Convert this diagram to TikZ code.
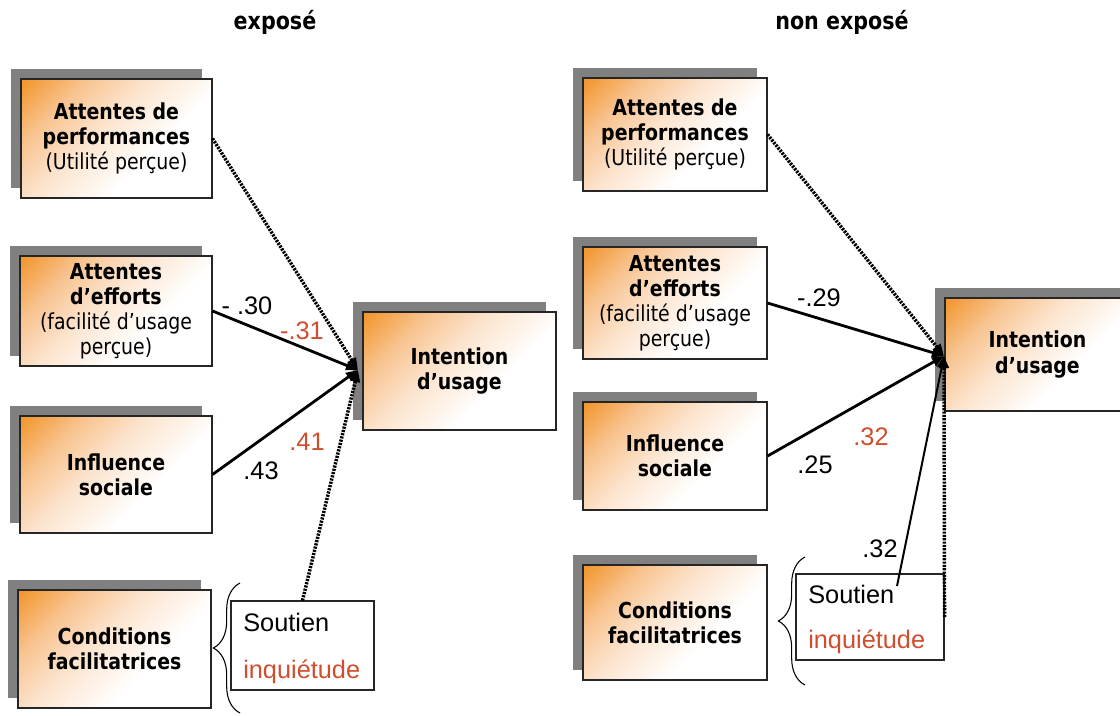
\documentclass[tikz,border=0pt]{standalone}
\usepackage{fontspec}
\setmainfont{Liberation Sans}
\newfontfamily\bxf[FakeStretch=0.86]{DejaVu Sans}
\usetikzlibrary{arrows.meta,shadows,decorations.pathreplacing}
\definecolor{orA}{RGB}{242,152,50}
\definecolor{orB}{RGB}{248,196,145}
\definecolor{orC}{RGB}{252,228,206}
\definecolor{redn}{RGB}{208,78,45}
\definecolor{shad}{RGB}{128,128,128}
\pgfdeclareverticalshading{orgrad}{100bp}{color(0bp)=(white); color(38bp)=(white); color(56bp)=(orC); color(70bp)=(orB); color(84bp)=(orA); color(100bp)=(orA)}
\tikzset{
  obox/.style={draw=black!85, line width=0.8pt, shading=orgrad, shading angle=45,
    drop shadow={shadow xshift=-7.5pt, shadow yshift=7.5pt, opacity=1, fill=shad},
    align=center, font=\bxf\fontsize{16.5}{18.8}\selectfont, inner sep=0pt},
  bx/.style 2 args={minimum width={#1*0.75pt}, minimum height={#2*0.75pt}},
  sbox/.style={draw=black!85, line width=0.8pt, fill=white, inner sep=0pt},
  stxt/.style={anchor=base west, inner sep=0pt, font=\fontsize{19}{22}\selectfont},
  num/.style={inner sep=0pt, font=\fontsize{19}{22}\selectfont},
  rnum/.style={num, text=redn},
  ttl/.style={font=\bxf\bfseries\fontsize{18}{20}\selectfont, inner sep=0pt},
  solidarr/.style={line width=2.1pt, -{Triangle[length=9pt,width=7pt]}},
  thinarr/.style={line width=1.5pt, -{Triangle[length=9pt,width=7pt]}},
  dotarr/.style={line width=2.6pt, dash pattern=on 1.6pt off 0.9pt, -{Triangle[length=9pt,width=7pt]}},
  brc/.style={decorate, decoration={brace, amplitude=20pt}, line width=0.8pt},
}
\begin{document}
\begin{tikzpicture}[x=0.75pt, y=-0.75pt]
\useasboundingbox (0,0) rectangle (1120,715);
\fill[white] (0,0) rectangle (1120,715);

% titles
\node[ttl] (T1) at (275,22) {exposé};
\node[ttl] (T2) at (842,22) {non exposé};

% left boxes
\node[obox, bx={191}{119}] (L1) at (116.5,138.5) {\bfseries Attentes de\\\bfseries performances\\(Utilité perçue)};
\node[obox, bx={192}{110}] (L2) at (116,311) {\bfseries Attentes\\\bfseries d’efforts\\(facilité d’usage\\perçue)};
\node[obox, bx={192}{117}] (L3) at (116,474.5) {\bfseries Influence\\\bfseries sociale};
\node[obox, bx={193}{118}] (L4) at (114.5,649) {\bfseries Conditions\\\bfseries facilitatrices};
\node[obox, bx={193}{118}] (LI) at (459.5,371) {\bfseries Intention\\\bfseries d’usage};

% right boxes
\node[obox, bx={184}{113}] (R1) at (675,134.5) {\bfseries Attentes de\\\bfseries performances\\(Utilité perçue)};
\node[obox, bx={184}{112}] (R2) at (675,303) {\bfseries Attentes\\\bfseries d’efforts\\(facilité d’usage\\perçue)};
\node[obox, bx={184}{108}] (R3) at (675,456) {\bfseries Influence\\\bfseries sociale};
\node[obox, bx={184}{115}] (R4) at (675,622.5) {\bfseries Conditions\\\bfseries facilitatrices};
\node[obox, bx={185}{113}] (RI) at (1037.5,354.5) {\bfseries Intention\\\bfseries d’usage};

% soutien boxes
\node[sbox, bx={143}{89}] (SL) at (302.5,645.5) {};
\node[stxt] (SLa) at (243,631) {Soutien};
\node[stxt, text=redn] (SLb) at (243,678) {inquiétude};
\node[sbox, bx={148}{86}] (SR) at (870,617) {};
\node[stxt] (SRa) at (808,603) {Soutien};
\node[stxt, text=redn] (SRb) at (808,648) {inquiétude};

% braces
\draw[brc] (240,713) -- (240,583);
\draw[brc] (805,685) -- (805,557);

% convergence points
\coordinate (cL) at (358,370);
\coordinate (cR) at (944,356);
\coordinate (sR) at (897,586);

% left connectors
\draw[dotarr] (L1.east) -- (cL);
\draw[solidarr] (L2.east) -- (cL);
\draw[solidarr] (L3.east) -- (cL);
\draw[dotarr] (SL.north) -- (cL);

% right connectors
\draw[dotarr] (R1.east) -- (cR);
\draw[solidarr] (R2.east) -- (cR);
\draw[solidarr] (R3.east) -- (cR);
\draw[thinarr] (sR) -- (cR);
\draw[dotarr] (SR.east) -- (cR);

% labels
\node[num] (n1) at (247,306) {- .30};
\node[rnum] (n2) at (302,331) {-.31};
\node[num] (n3) at (261,471) {.43};
\node[rnum] (n4) at (307,442) {.41};
\node[num] (n5) at (819,298) {-.29};
\node[num] (n6) at (815,465) {.25};
\node[rnum] (n7) at (871,437) {.32};
\node[num] (n8) at (880,549) {.32};
\end{tikzpicture}
\end{document}
